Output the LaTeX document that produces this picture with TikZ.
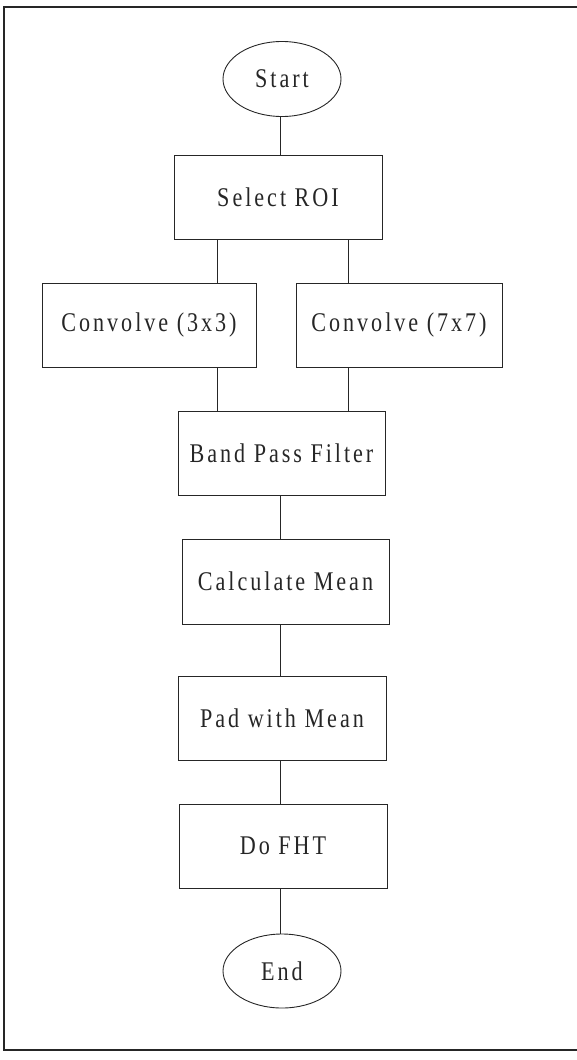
\documentclass[tikz,border=0pt]{standalone}
\usepackage{fontspec}
\setmainfont[LetterSpace=11, FakeStretch=0.82]{Liberation Serif}
\usetikzlibrary{shapes.geometric}

\begin{document}
\begin{tikzpicture}[x=1pt, y=-1pt,
    stepbox/.style={draw, rectangle, line width=0.9pt, minimum width=207pt, minimum height=84pt, inner sep=0pt, font=\fontsize{27}{30}\selectfont},
    termnode/.style={draw, ellipse, line width=0.9pt, minimum width=118pt, minimum height=75pt, inner sep=0pt, font=\fontsize{27}{30}\selectfont},
    link/.style={line width=0.9pt}]
  \useasboundingbox (0,0) rectangle (576,1060);
  \color{black!85}
  % Frame
  \draw[line width=1.6pt] (590,7) -- (4,7) -- (4,1050) -- (590,1050);
  % Spine and branches
  \coordinate (spine) at (280,0);
  \coordinate (leftway) at (217,0);
  \coordinate (rightway) at (348,0);
  % Steps
  \node[termnode] (start) at (282,79) {Start};
  \node[stepbox, minimum width=208pt] (roi) at (278,197) {Select ROI};
  \node[stepbox, minimum width=214pt] (conv3) at (149,325) {Convolve (3x3)};
  \node[stepbox, minimum width=206pt] (conv7) at (399,325) {Convolve (7x7)};
  \node[stepbox] (bpf) at (281.5,453.5) {Band Pass Filter};
  \node[stepbox, minimum height=85pt] (mean) at (285.5,581.5) {Calculate Mean};
  \node[stepbox, minimum width=208pt] (pad) at (282,718) {Pad with Mean};
  \node[stepbox, minimum width=208pt] (fht) at (283,846) {Do FHT};
  \node[termnode, minimum height=74pt] (end) at (282,971) {End};
  % Links
  \draw[link] (start.south -| spine) -- (roi.north -| spine);
  \draw[link] (roi.south -| leftway) -- (conv3.north -| leftway);
  \draw[link] (roi.south -| rightway) -- (conv7.north -| rightway);
  \draw[link] (conv3.south -| leftway) -- (bpf.north -| leftway);
  \draw[link] (conv7.south -| rightway) -- (bpf.north -| rightway);
  \draw[link] (bpf.south -| spine) -- (mean.north -| spine);
  \draw[link] (mean.south -| spine) -- (pad.north -| spine);
  \draw[link] (pad.south -| spine) -- (fht.north -| spine);
  \draw[link] (fht.south -| spine) -- (end.north -| spine);
\end{tikzpicture}
\end{document}
